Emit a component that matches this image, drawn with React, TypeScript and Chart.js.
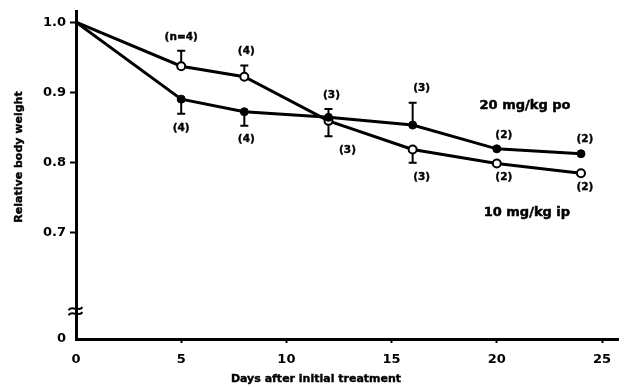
import React, { useEffect, useRef } from "react";
import { Chart, registerables } from "chart.js";

Chart.register(...registerables);

// Days after initial treatment
const days = [0, 5, 8, 12, 16, 20, 24];
// 10 mg/kg ip (open circles)
const ipValues = [1.0, 0.937, 0.922, 0.859, 0.818, 0.798, 0.784];
const ipErrHigh = [null, 0.959, 0.938, null, null, null, null];
const ipErrLow = [null, null, null, 0.837, 0.799, null, null];
const ipN = ["", "(n=4)", "(4)", "(3)", "(3)", "(2)", "(2)"];
// 20 mg/kg po (filled circles)
const poValues = [1.0, 0.89, 0.872, 0.864, 0.853, 0.819, 0.812];
const poErrHigh = [null, null, null, 0.876, 0.885, null, null];
const poErrLow = [null, 0.869, 0.852, null, null, null, null];
const poN = ["", "(4)", "(4)", "(3)", "(3)", "(2)", "(2)"];

const xTicks = [0, 5, 10, 15, 20, 25];
const yMin = 0.5473;
const yMax = 1.0148;
const yTicks = [yMin, 0.7, 0.8, 0.9, 1.0];
const yTickLabels = ["0", "0.7", "0.8", "0.9", "1.0"];
const yBreak = 0.587;

const seriesNames = ["20 mg/kg po", "10 mg/kg ip"];
const seriesNameAt = [
  [21.34, 0.881],
  [21.43, 0.728],
];

// label layout (side of the point and horizontal nudge)
const ipSide = ["", "up", "up", "down", "down", "down", "down"];
const poSide = ["", "down", "down", "up", "up", "up", "up"];
const ipDx = [0, 0, 2, 19, 9, 7, 4];
const poDx = [0, 0, 2, 3, 9, 7, 4];

const FONT = '"DejaVu Sans"';

const annotPlugin = {
  id: "annot",
  beforeDatasetsDraw(chart: any) {
    const { ctx, scales } = chart;
    const x = scales.x;
    const y = scales.y;
    ctx.save();
    ctx.strokeStyle = "#000";
    ctx.lineWidth = 2;
    const bar = (d: number, v: number, e: number) => {
      const px = x.getPixelForValue(d);
      const p0 = y.getPixelForValue(v);
      const p1 = y.getPixelForValue(e);
      ctx.beginPath();
      ctx.moveTo(px, p0);
      ctx.lineTo(px, p1);
      ctx.moveTo(px - 4, p1);
      ctx.lineTo(px + 4, p1);
      ctx.stroke();
    };
    days.forEach((d, i) => {
      if (ipErrHigh[i] != null) bar(d, ipValues[i], ipErrHigh[i] as number);
      if (ipErrLow[i] != null) bar(d, ipValues[i], ipErrLow[i] as number);
      if (poErrHigh[i] != null) bar(d, poValues[i], poErrHigh[i] as number);
      if (poErrLow[i] != null) bar(d, poValues[i], poErrLow[i] as number);
    });
    ctx.restore();
  },
  afterDraw(chart: any) {
    const { ctx, scales } = chart;
    const x = scales.x;
    const y = scales.y;
    ctx.save();
    ctx.fillStyle = "#000";
    ctx.strokeStyle = "#000";
    ctx.textAlign = "center";
    ctx.textBaseline = "middle";

    // n labels
    ctx.font = `bold 10.5px ${FONT}`;
    ctx.lineWidth = 0.4;
    const lab = (
      vals: number[],
      hi: (number | null)[],
      lo: (number | null)[],
      ns: string[],
      side: string[],
      dx: number[]
    ) => {
      days.forEach((d, i) => {
        if (!ns[i]) return;
        const px = x.getPixelForValue(d) + dx[i];
        const pv = y.getPixelForValue(vals[i]);
        let py;
        if (side[i] === "up") {
          const top = hi[i] != null ? y.getPixelForValue(hi[i] as number) : pv;
          py = Math.min(top, pv) - 14;
        } else {
          const bot = lo[i] != null ? y.getPixelForValue(lo[i] as number) : pv;
          py = Math.max(bot, pv) + 14;
        }
        ctx.fillText(ns[i], px, py);
        ctx.strokeText(ns[i], px, py);
      });
    };
    lab(ipValues, ipErrHigh, ipErrLow, ipN, ipSide, ipDx);
    lab(poValues, poErrHigh, poErrLow, poN, poSide, poDx);

    // series names
    ctx.font = `bold 13px ${FONT}`;
    ctx.lineWidth = 0.5;
    seriesNames.forEach((s, i) => {
      const px = x.getPixelForValue(seriesNameAt[i][0]);
      const py = y.getPixelForValue(seriesNameAt[i][1]);
      ctx.fillText(s, px, py);
      ctx.strokeText(s, px, py);
    });

    // axis titles
    ctx.font = `bold 11px ${FONT}`;
    ctx.lineWidth = 0.4;
    ctx.fillText("Days after initial treatment", 316, 379);
    ctx.strokeText("Days after initial treatment", 316, 379);
    ctx.save();
    ctx.translate(19.5, 157);
    ctx.rotate(-Math.PI / 2);
    ctx.fillText("Relative body weight", 0, 0);
    ctx.strokeText("Relative body weight", 0, 0);
    ctx.restore();

    // axis break mark
    const bx = chart.chartArea.left - 0.5;
    const by = y.getPixelForValue(yBreak);
    ctx.lineWidth = 2;
    [-2.5, 2.5].forEach((o) => {
      ctx.beginPath();
      ctx.moveTo(bx - 7, by + o + 1.5);
      ctx.bezierCurveTo(bx - 3, by + o - 4, bx + 2, by + o + 4, bx + 7, by + o - 1.5);
      ctx.stroke();
    });
    ctx.restore();
  },
};

export default function App() {
  const ref = useRef<HTMLCanvasElement | null>(null);
  useEffect(() => {
    document.body.style.margin = "0";
    const canvas = ref.current;
    if (!canvas) return;
    const chart = new Chart(canvas, {
      type: "line",
      data: {
        datasets: [
          {
            label: seriesNames[0],
            data: days.map((d, i) => ({ x: d, y: poValues[i] })),
            borderColor: "#000",
            borderWidth: 3,
            backgroundColor: "#000",
            pointBackgroundColor: "#000",
            pointBorderColor: "#000",
            pointBorderWidth: 1,
            pointRadius: days.map((d, i) => (i === 0 ? 0 : 4)),
            tension: 0,
          },
          {
            label: seriesNames[1],
            data: days.map((d, i) => ({ x: d, y: ipValues[i] })),
            borderColor: "#000",
            borderWidth: 3,
            backgroundColor: "#fff",
            pointBackgroundColor: "#fff",
            pointBorderColor: "#000",
            pointBorderWidth: 2,
            pointRadius: days.map((d, i) => (i === 0 ? 0 : 4)),
            tension: 0,
          },
        ],
      },
      options: {
        responsive: false,
        animation: false,
        events: [],
        layout: { padding: { top: 8, right: 9, left: 0, bottom: 0 } },
        plugins: { legend: { display: false }, tooltip: { enabled: false } },
        scales: {
          x: {
            type: "linear",
            min: 0,
            max: 25.76,
            afterBuildTicks: (s: any) => {
              s.ticks = xTicks.map((v) => ({ value: v }));
            },
            afterFit: (s: any) => {
              s.height = 48;
            },
            ticks: {
              color: "#000",
              font: { family: "DejaVu Sans", weight: "bold", size: 13 },
              padding: 9,
              maxRotation: 0,
            },
            grid: {
              display: true,
              drawOnChartArea: false,
              drawTicks: true,
              tickLength: 4,
              tickWidth: 2,
              tickColor: (c: any) => (c.tick && c.tick.value === 0 ? "rgba(0,0,0,0)" : "#000"),
            },
            border: { display: true, color: "#000", width: 3 },
          },
          y: {
            type: "linear",
            min: yMin,
            max: yMax,
            afterBuildTicks: (s: any) => {
              s.ticks = yTicks.map((v) => ({ value: v }));
            },
            afterFit: (s: any) => {
              s.width = 76;
            },
            ticks: {
              color: "#000",
              font: { family: "DejaVu Sans", weight: "bold", size: 13 },
              padding: 4,
              callback: (v: any) => {
                const i = yTicks.indexOf(v);
                return i >= 0 ? yTickLabels[i] : "";
              },
            },
            grid: {
              display: true,
              drawOnChartArea: false,
              drawTicks: true,
              tickLength: 6,
              tickWidth: 2,
              tickColor: (c: any) => (c.tick && c.tick.value === yMin ? "rgba(0,0,0,0)" : "#000"),
            },
            border: { display: true, color: "#000", width: 3 },
          },
        },
      },
      plugins: [annotPlugin],
    } as any);
    return () => chart.destroy();
  }, []);
  return (
    <canvas
      ref={ref}
      width={627}
      height={387}
      style={{ display: "block", position: "fixed", left: 0, top: 0, background: "#fff" }}
    />
  );
}
